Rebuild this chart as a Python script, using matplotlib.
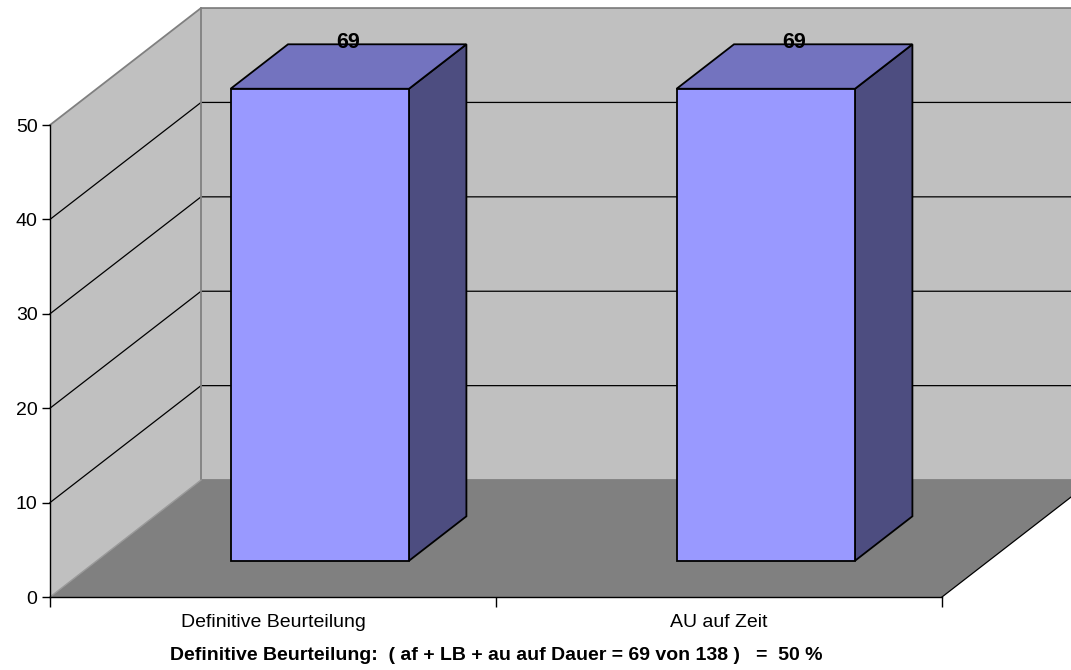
import numpy as np
import matplotlib
matplotlib.use('Agg')
import matplotlib.pyplot as plt
from matplotlib.patches import Polygon

### DATA ###
categories = ['Definitive Beurteilung', 'AU auf Zeit']
values = [69, 69]
y_ticks = [0, 10, 20, 30, 40, 50]
footer = 'Definitive Beurteilung:  ( af + LB + au auf Dauer = 69 von 138 )   =  50 %'

plt.rcParams['font.family'] = ['Liberation Sans', 'DejaVu Sans']

YMAX = y_ticks[-1]
DX, DY = 0.3386, 12.39     # shift of the back plane (data units)
BAR_W = 0.40               # bar width, fraction of a category
D0, D1 = 0.31, 0.69        # front / back depth of the bars

WALL = '#c0c0c0'
FLOOR = '#808080'
EDGE = '#808080'


def pt(x, v, d):
    # oblique projection: category x, value v, depth d (0 front .. 1 back)
    return (x + d * DX, v + d * DY)


fig = plt.figure(figsize=(10.71, 6.70), dpi=100)
ax = fig.add_axes([50 / 1071, 73 / 670, 892 / 1071, 472 / 670])
n = len(categories)
ax.set_xlim(0, n)
ax.set_ylim(0, YMAX)
ax.patch.set_visible(False)


def face(pts, fc, ec='none', lw=0, z=1):
    ax.add_patch(Polygon(pts, closed=True, fc=fc, ec=ec, lw=lw, zorder=z,
                         clip_on=False, joinstyle='miter'))


def line(pts, c, lw, z=1.5):
    xs, ys = zip(*pts)
    ax.plot(xs, ys, color=c, lw=lw, zorder=z, clip_on=False,
            solid_joinstyle='miter')


# walls + floor
face([pt(0, 0, 0), pt(0, YMAX, 0), pt(0, YMAX, 1), pt(0, 0, 1)], WALL)
face([pt(0, 0, 1), pt(0, YMAX, 1), pt(n, YMAX, 1), pt(n, 0, 1)], WALL)
face([pt(0, 0, 0), pt(n, 0, 0), pt(n, 0, 1), pt(0, 0, 1)], FLOOR)

# gridlines on left + back wall
for v in y_ticks[1:-1]:
    line([pt(0, v, 0), pt(0, v, 1), pt(n, v, 1)], 'k', 0.9)

# wall borders
line([pt(0, YMAX, 0), pt(0, YMAX, 1), pt(n, YMAX, 1)], EDGE, 1.3)
line([pt(0, 0, 1), pt(0, YMAX, 1)], EDGE, 1.3)
line([pt(0, 0, 1), pt(n, 0, 1)], EDGE, 1.3)
line([pt(0, 0, 0), pt(0, 0, 1)], '#9a9a9a', 1.0)
line([pt(n, 0, 0), pt(n, 0, 1)], 'k', 0.9)

# bars (clipped at the axis maximum)
for i, v in enumerate(values):
    h = min(v, YMAX)
    xc = i + 0.5
    x0, x1 = xc - BAR_W / 2, xc + BAR_W / 2
    face([pt(x1, 0, D0), pt(x1, 0, D1), pt(x1, h, D1), pt(x1, h, D0)],
         '#4d4d80', 'k', 1.3, z=3)
    face([pt(x0, h, D0), pt(x1, h, D0), pt(x1, h, D1), pt(x0, h, D1)],
         '#7373bf', 'k', 1.3, z=3)
    face([pt(x0, 0, D0), pt(x1, 0, D0), pt(x1, h, D0), pt(x0, h, D0)],
         '#9999ff', 'k', 1.3, z=3)
    ax.annotate(str(v), xy=pt(xc, h, 0.5), xytext=(0, 17),
                textcoords='offset points', ha='center', va='center',
                fontsize=15.5, fontweight='bold', zorder=5,
                annotation_clip=False)

# axes
for s in ['top', 'right']:
    ax.spines[s].set_visible(False)
for s in ['left', 'bottom']:
    ax.spines[s].set_color('k')
    ax.spines[s].set_linewidth(1.0)
    ax.spines[s].set_zorder(4)

ax.set_yticks(y_ticks)
ax.set_yticklabels([str(t) for t in y_ticks])
ax.tick_params(axis='y', direction='out', length=6, width=1.0, pad=3,
               labelsize=14, colors='k')

ax.set_xticks(np.arange(n + 1))
ax.set_xticklabels([])
ax.tick_params(axis='x', which='major', direction='out', length=7, width=1.0)
ax.set_xticks(np.arange(n) + 0.5, categories, minor=True)
ax.tick_params(axis='x', which='minor', length=0, pad=12, labelsize=14)

bb = ax.get_position()
fig.text((bb.x0 + bb.x1) / 2, 1 - 656 / 670, footer, ha='center', va='center',
         fontsize=14, fontweight='bold')

fig.savefig('out.png', dpi=100, facecolor='white')
